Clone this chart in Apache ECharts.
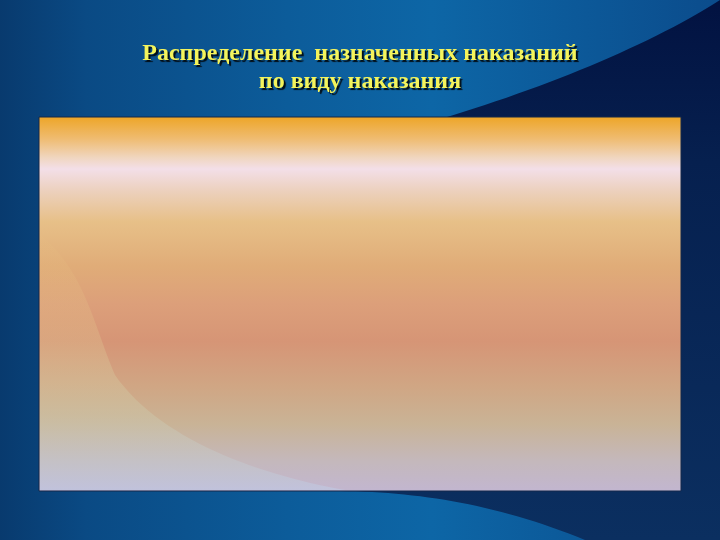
<!DOCTYPE html>
<html>
<head>
<meta charset="utf-8">
<style>
    html, body { margin: 0; padding: 0; background: #083e74; }
    #chart { width: 720px; height: 540px; }
</style>
<script src="https://cdn.jsdelivr.net/npm/echarts@6/dist/echarts.min.js"></script>
</head>
<body>
<div id="chart"></div>
<script>
// The slide shows the title and an empty plot area: no marks are drawn.
const titleLines = ['Распределение  назначенных наказаний', 'по виду наказания']
const categories = []
const values = []

const grad = (x, y, x2, y2, stops) => new echarts.graphic.LinearGradient(x, y, x2, y2,
    stops.map(([offset, color]) => ({ offset, color })))

// points along a cubic bezier, for the decorative swooshes
function bezier(p0, p1, p2, p3, n) {
    const pts = []
    for (let i = 0; i <= n; i++) {
        const t = i / n, u = 1 - t
        pts.push([
            u * u * u * p0[0] + 3 * u * u * t * p1[0] + 3 * u * t * t * p2[0] + t * t * t * p3[0],
            u * u * u * p0[1] + 3 * u * u * t * p1[1] + 3 * u * t * t * p2[1] + t * t * t * p3[1]
        ])
    }
    return pts
}

const navyShape = [].concat(
    bezier([430, 122], [540, 90], [650, 45], [720, 0], 30),
    [[720, 540]],
    bezier([585, 540], [500, 505], [420, 492], [340, 491], 30),
    [[430, 491]]
)

const lightShape = [].concat(
    bezier([40, 235], [85, 270], [95, 330], [115, 375], 30),
    bezier([115, 375], [160, 440], [260, 475], [345, 490], 30),
    [[40, 490]]
)

const chart = echarts.init(document.getElementById('chart'))

chart.setOption({
    animation: false,
    title: {
        text: titleLines.join('\n'),
        left: 'center',
        top: 35,
        textStyle: {
            fontFamily: 'Liberation Serif',
            fontWeight: 'bold',
            fontSize: 24,
            lineHeight: 28,
            color: '#f4f45c',
            textShadowColor: 'rgba(0,0,0,0.85)',
            textShadowOffsetX: 2,
            textShadowOffsetY: 2,
            textShadowBlur: 1
        },
        z: 10
    },
    graphic: [
        {
            type: 'rect', z: -10, silent: true,
            shape: { x: 0, y: 0, width: 720, height: 540 },
            style: {
                fill: grad(0, 0, 1, 0, [
                    [0, '#083a6e'], [0.12, '#0a4a84'], [0.4, '#0c5c9a'],
                    [0.6, '#0d66a6'], [1, '#0b4c8c']
                ])
            }
        },
        {
            type: 'polygon', z: -9, silent: true,
            shape: { points: navyShape },
            style: {
                fill: grad(0, 0, 0, 1, [[0, '#021241'], [0.3, '#06204f'], [1, '#0b2f60']])
            }
        },
        {
            type: 'rect', z: -8, silent: true,
            shape: { x: 39, y: 117, width: 642, height: 374 },
            style: {
                stroke: '#14284a',
                lineWidth: 1,
                fill: grad(0, 0, 0, 1, [
                    [0, '#eda526'], [0.06, '#efbc72'], [0.11, '#f0d6c0'],
                    [0.14, '#f3dfe8'], [0.2, '#ecd0bc'], [0.28, '#e7c088'],
                    [0.4, '#e0ac78'], [0.5, '#dc9f7a'], [0.6, '#d69576'],
                    [0.72, '#d0a684'], [0.82, '#c9b396'], [0.92, '#c4b8bc'],
                    [1, '#c2b6d0']
                ])
            }
        },
        {
            type: 'polygon', z: -7, silent: true,
            shape: { points: lightShape },
            style: {
                fill: grad(0, 0, 0, 1, [
                    [0, 'rgba(236,200,130,0.05)'], [0.35, 'rgba(228,196,140,0.3)'],
                    [0.7, 'rgba(204,196,166,0.55)'], [1, 'rgba(192,198,224,0.75)']
                ])
            }
        }
    ],
    series: [{
        type: 'pie',
        center: [360, 304],
        radius: [0, 150],
        showEmptyCircle: false,
        label: { show: false },
        data: categories.map((name, i) => ({ name, value: values[i] }))
    }]
})
</script>
</body>
</html>
